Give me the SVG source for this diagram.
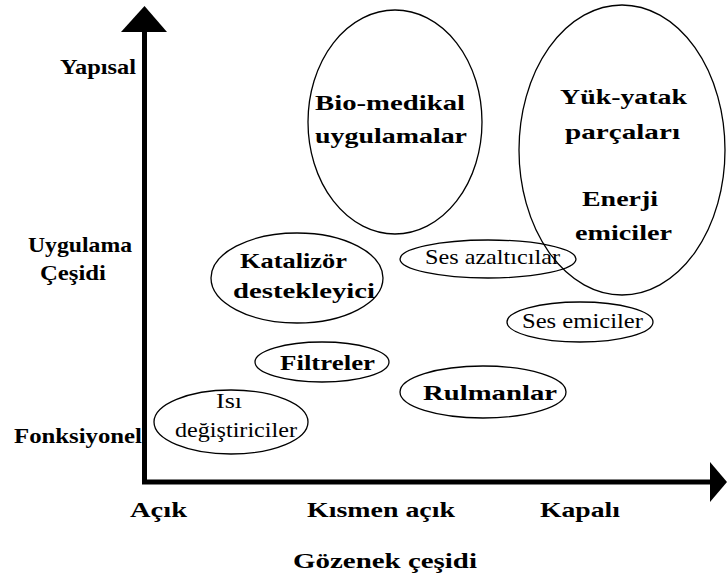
<svg xmlns="http://www.w3.org/2000/svg" width="727" height="587" viewBox="0 0 727 587" font-family="'Liberation Serif', 'DejaVu Serif', 'Times New Roman', serif">
<style>
.b{font-weight:bold;font-size:22px;fill:#000}
.n{font-weight:normal;font-size:21px;fill:#000}
.e{fill:none;stroke:#000;stroke-width:1.3}
.ax{stroke:#000;stroke-width:5;fill:none}
</style>
<rect width="727" height="587" fill="#fff"/>
<g id="axes">
<line class="ax" x1="144.5" y1="30" x2="144.5" y2="482"/>
<line class="ax" x1="142" y1="482" x2="712" y2="482"/>
<polygon points="144.5,6 121,32 167,32" fill="#000"/>
<polygon points="727,482 710,462 710,502" fill="#000"/>
</g>
<g id="axis-labels" font-family="Liberation Serif, serif">
<text class="b" x="60" y="74" textLength="76" lengthAdjust="spacingAndGlyphs" font-family="Liberation Serif">Yapısal</text>
<text class="b" x="28" y="252" textLength="104" lengthAdjust="spacingAndGlyphs">Uygulama</text>
<text class="b" x="40" y="280" textLength="66" lengthAdjust="spacingAndGlyphs">Çeşidi</text>
<text class="b" x="14" y="443" textLength="128" lengthAdjust="spacingAndGlyphs">Fonksiyonel</text>
<text class="b" x="130" y="517" textLength="57" lengthAdjust="spacingAndGlyphs">Açık</text>
<text class="b" x="307" y="517" textLength="148" lengthAdjust="spacingAndGlyphs">Kısmen açık</text>
<text class="b" x="540" y="517" textLength="80" lengthAdjust="spacingAndGlyphs">Kapalı</text>
<text class="b" x="293" y="568" textLength="184" lengthAdjust="spacingAndGlyphs">Gözenek çeşidi</text>
</g>
<g id="bio-medikal">
<ellipse class="e" cx="395" cy="122" rx="87" ry="112"/>
<text class="b" x="315" y="110" textLength="150" lengthAdjust="spacingAndGlyphs">Bio-medikal</text>
<text class="b" x="315" y="143" textLength="152" lengthAdjust="spacingAndGlyphs">uygulamalar</text>
</g>
<g id="yuk-yatak">
<ellipse class="e" cx="622" cy="150" rx="103" ry="145"/>
<text class="b" x="560" y="104" textLength="127" lengthAdjust="spacingAndGlyphs">Yük-yatak</text>
<text class="b" x="565" y="139" textLength="115" lengthAdjust="spacingAndGlyphs">parçaları</text>
<text class="b" x="582" y="206" textLength="76" lengthAdjust="spacingAndGlyphs">Enerji</text>
<text class="b" x="575" y="240" textLength="97" lengthAdjust="spacingAndGlyphs">emiciler</text>
</g>
<g id="katalizor">
<ellipse class="e" cx="297" cy="278" rx="86" ry="45"/>
<text class="b" x="240" y="268" textLength="107" lengthAdjust="spacingAndGlyphs">Katalizör</text>
<text class="b" x="233" y="298" textLength="142" lengthAdjust="spacingAndGlyphs">destekleyici</text>
</g>
<g id="ses-azalticilar">
<ellipse class="e" cx="488" cy="259" rx="88" ry="19"/>
<text class="n" x="425" y="264" textLength="135" lengthAdjust="spacingAndGlyphs">Ses azaltıcılar</text>
</g>
<g id="ses-emiciler">
<ellipse class="e" cx="580" cy="322" rx="73" ry="20"/>
<text class="n" x="522" y="328" textLength="121" lengthAdjust="spacingAndGlyphs">Ses emiciler</text>
</g>
<g id="filtreler">
<ellipse class="e" cx="322" cy="362" rx="67" ry="20"/>
<text class="b" x="280" y="370" textLength="95" lengthAdjust="spacingAndGlyphs">Filtreler</text>
</g>
<g id="rulmanlar">
<ellipse class="e" cx="483" cy="392" rx="83" ry="26"/>
<text class="b" x="423" y="400" textLength="134" lengthAdjust="spacingAndGlyphs">Rulmanlar</text>
</g>
<g id="isi-degistiriciler">
<ellipse class="e" cx="231" cy="422" rx="77" ry="32"/>
<text class="n" x="216" y="408" textLength="26" lengthAdjust="spacingAndGlyphs">Isı</text>
<text class="n" x="175" y="437" textLength="122" lengthAdjust="spacingAndGlyphs">değiştiriciler</text>
</g>
</svg>
